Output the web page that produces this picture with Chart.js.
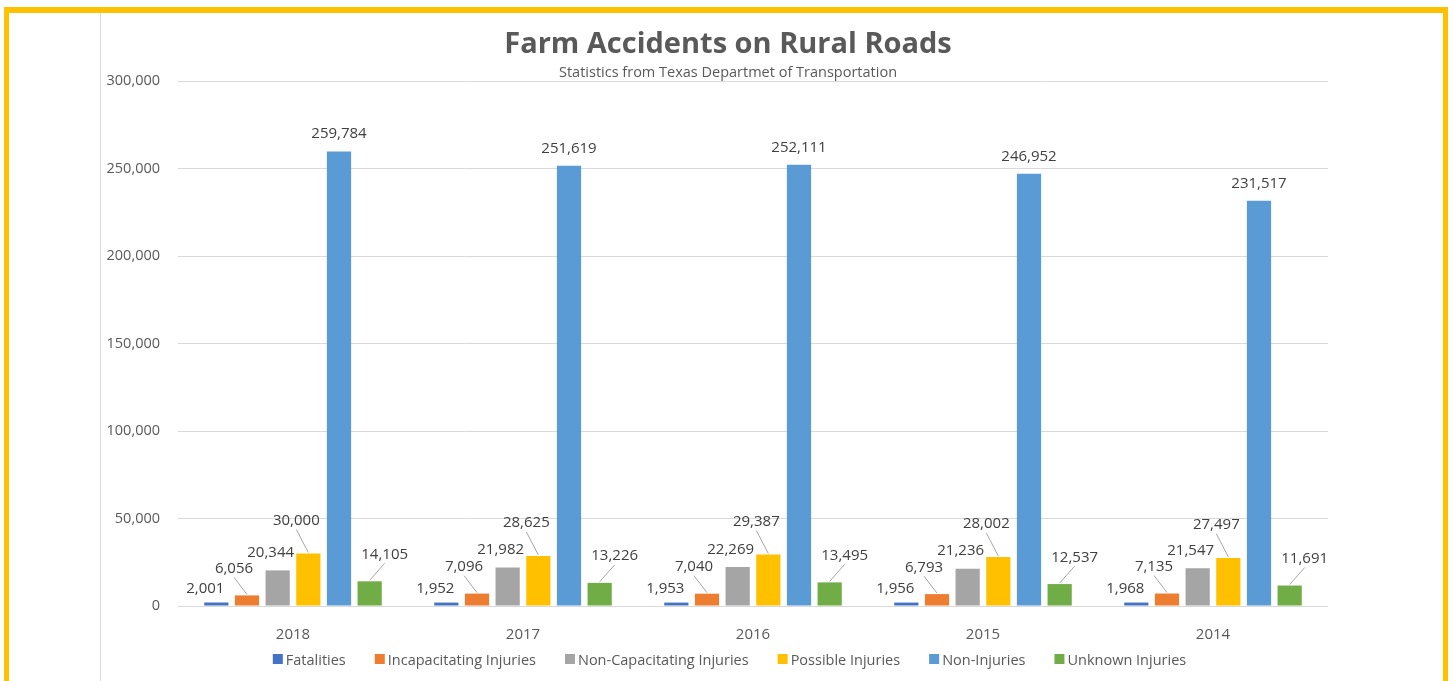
<!DOCTYPE html>
<html>
<head>
<meta charset="utf-8">
<title>Farm Accidents on Rural Roads</title>
<script src="https://cdn.jsdelivr.net/npm/chart.js@4.4.1/dist/chart.umd.min.js"></script>
<style>
  html, body { margin: 0; padding: 0; background: #fff; overflow: hidden; }
  #frame {
    position: absolute; left: 4px; top: 7px; width: 1444px; height: 720px;
    box-sizing: border-box; border: 5px solid #FFC000; border-top-width: 6px;
  }
  #rule { position: absolute; left: 100px; top: 13px; width: 1px; height: 700px; background: #d9d9d9; }
  #myChart { position: absolute; left: 0; top: 0; }
</style>
</head>
<body>
<div id="frame"></div>
<div id="rule"></div>
<canvas id="myChart" width="1453" height="681"></canvas>
<script>
// chart data
var years = ['2018', '2017', '2016', '2015', '2014'];
var fatalities = [2001, 1952, 1953, 1956, 1968];
var incapacitating = [6056, 7096, 7040, 6793, 7135];
var nonCapacitating = [20344, 21982, 22269, 21236, 21547];
var possible = [30000, 28625, 29387, 28002, 27497];
var nonInjuries = [259784, 251619, 252111, 246952, 231517];
var unknown = [14105, 13226, 13495, 12537, 11691];
var yTicks = [0, 50000, 100000, 150000, 200000, 250000, 300000];

var seriesNames = ['Fatalities', 'Incapacitating Injuries', 'Non-Capacitating Injuries',
    'Possible Injuries', 'Non-Injuries', 'Unknown Injuries'];
var seriesColors = ['#4472C4', '#ED7D31', '#A5A5A5', '#FFC000', '#5B9BD5', '#70AD47'];

// where each series puts its value label, relative to the bar top
var labelOffsets = [
    { dx: -11, dy: -15, leader: false },
    { dx: -13, dy: -28, leader: true },
    { dx: -7, dy: -19, leader: false },
    { dx: -12, dy: -34, leader: true },
    { dx: 0, dy: -18.5, leader: false },
    { dx: 15, dy: -28, leader: true }
];

var FONT = '"Open Sans", "Noto Sans", sans-serif';

function fmt(v) {
    return Number(v).toLocaleString('en-US');
}

var barLabels = {
    id: 'barLabels',
    afterDatasetsDraw: function(chart) {
        var ctx = chart.ctx;
        ctx.save();
        ctx.font = '15px ' + FONT;
        ctx.textAlign = 'center';
        ctx.textBaseline = 'alphabetic';
        chart.data.datasets.forEach(function(ds, i) {
            var meta = chart.getDatasetMeta(i);
            var off = labelOffsets[i];
            meta.data.forEach(function(bar, j) {
                var lx = bar.x + off.dx;
                var ly = bar.y + off.dy;
                if (off.leader) {
                    ctx.strokeStyle = '#a6a6a6';
                    ctx.lineWidth = 1;
                    ctx.beginPath();
                    ctx.moveTo(lx, ly + 10);
                    ctx.lineTo(bar.x, bar.y - 1);
                    ctx.stroke();
                }
                ctx.fillStyle = '#404040';
                ctx.fillText(fmt(ds.data[j]), lx, ly + 5.5);
            });
        });
        ctx.restore();
    }
};

var headerAndLegend = {
    id: 'headerAndLegend',
    afterDraw: function(chart) {
        var ctx = chart.ctx;
        var cx = 728;
        ctx.save();
        ctx.textAlign = 'center';
        ctx.textBaseline = 'alphabetic';
        ctx.fillStyle = '#595959';
        ctx.font = 'bold 29px ' + FONT;
        ctx.fillText('Farm Accidents on Rural Roads', cx, 53);
        ctx.font = '14.5px ' + FONT;
        ctx.fillText('Statistics from Texas Departmet of Transportation', cx, 77);

        // legend
        ctx.font = '14.5px ' + FONT;
        ctx.textAlign = 'left';
        var box = 10, gapText = 3, gapItem = 29;
        var widths = seriesNames.map(function(n) { return ctx.measureText(n).width; });
        var total = 0;
        widths.forEach(function(w, i) { total += box + gapText + w + (i < widths.length - 1 ? gapItem : 0); });
        var x = 729.5 - total / 2;
        var y = 659;
        seriesNames.forEach(function(n, i) {
            ctx.fillStyle = seriesColors[i];
            ctx.fillRect(x, y - box / 2, box, box);
            ctx.fillStyle = '#595959';
            ctx.fillText(n, x + box + gapText, y + 5.5);
            x += box + gapText + widths[i] + gapItem;
        });
        ctx.restore();
    }
};

var seriesData = [fatalities, incapacitating, nonCapacitating, possible, nonInjuries, unknown];

var ctx = document.getElementById('myChart');
var myChart = new Chart(ctx, {
    type: 'bar',
    data: {
        labels: years,
        datasets: seriesData.map(function(d, i) {
            return {
                label: seriesNames[i],
                data: d,
                backgroundColor: seriesColors[i],
                borderWidth: 0,
                barPercentage: 0.79,
                categoryPercentage: 0.8
            };
        })
    },
    options: {
        responsive: false,
        animation: false,
        devicePixelRatio: 1,
        layout: { padding: { left: 100, right: 125, top: 81, bottom: 35 } },
        plugins: {
            legend: { display: false },
            title: { display: false },
            tooltip: { enabled: false }
        },
        scales: {
            x: {
                grid: { display: false },
                border: { display: false },
                ticks: { color: '#595959', font: { family: FONT, size: 15 }, padding: 12 },
                afterFit: function(scale) { scale.height = 40; }
            },
            y: {
                min: 0,
                max: 300000,
                afterBuildTicks: function(scale) {
                    scale.ticks = yTicks.map(function(v) { return { value: v }; });
                },
                grid: { color: '#d9d9d9', lineWidth: 1, drawTicks: false },
                border: { display: false },
                ticks: {
                    color: '#595959',
                    font: { family: FONT, size: 14.5 },
                    padding: 18,
                    callback: function(v) { return fmt(v); }
                },
                afterFit: function(scale) { scale.width = 78; }
            }
        }
    },
    plugins: [barLabels, headerAndLegend]
});
</script>
</body>
</html>
